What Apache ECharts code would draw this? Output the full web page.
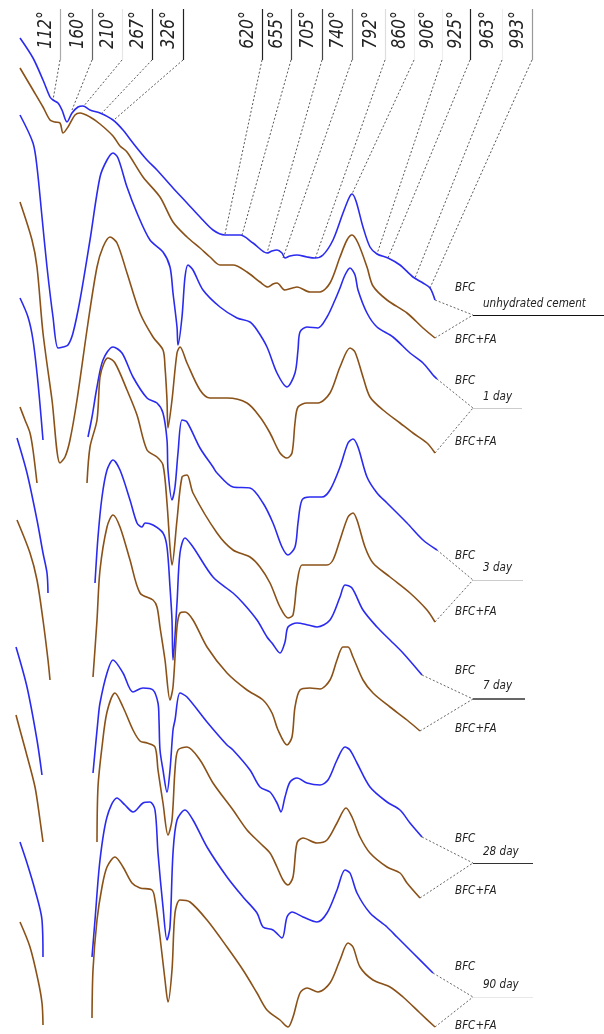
<!DOCTYPE html>
<html>
<head>
<meta charset="utf-8">
<script src="https://cdn.jsdelivr.net/npm/echarts@6/dist/echarts.min.js"></script>
<style>
html,body{margin:0;padding:0;background:#fff;}
#chart{width:604px;height:1034px;}
</style>
</head>
<body>
<div id="chart"></div>
<script>
// ---- curves: [x, y] (chart units, y grows downward) ----
const bfcUnhydrated = [[20,38],[33,58],[43,80],[50,97],[53,100],[58,103],[62,110],[67,122],[72,113],[78,107],[83,106],[90,110],[100,113],[113,120],[123,130],[133,143],[147,160],[157,170],[173,188],[187,203],[200,217],[213,230],[225,235],[240,235],[253,243],[267,253],[272,251],[277,250],[282,253],[285,258],[290,256],[297,255],[307,257],[315,258],[323,255],[333,240],[343,213],[349,198],[352,194],[356,201],[363,227],[370,247],[377,254],[388,258],[400,265],[413,277],[423,283],[430,288],[435,300]];
const faUnhydrated = [[20,68],[33,90],[43,107],[50,120],[55,122],[60,123],[63,133],[68,127],[75,115],[80,113],[90,117],[100,124],[113,136],[120,146],[127,152],[143,177],[160,197],[173,222],[187,237],[200,248],[210,257],[220,265],[233,265],[247,272],[260,282],[268,287],[273,284],[277,283],[285,290],[297,287],[310,292],[320,292],[330,283],[340,257],[347,240],[352,235],[358,243],[367,267],[373,286],[387,300],[407,313],[423,328],[435,338]];
const bfcDay1 = [[20,115],[33,143],[37,167],[42,217],[47,267],[53,317],[58,348],[63,347],[68,345],[73,333],[80,300],[90,240],[100,177],[107,160],[113,153],[118,158],[127,187],[137,213],[150,240],[163,252],[170,267],[173,293],[177,327],[178,345],[182,317],[185,277],[188,265],[193,270],[203,290],[220,307],[237,318],[250,322],[257,330],[267,347],[277,373],[287,387],[295,373],[298,350],[300,332],[307,327],[318,328],[327,317],[335,300],[340,288],[345,275],[350,268],[355,275],[358,290],[367,313],[377,327],[393,337],[410,353],[423,363],[433,375],[437,379]];
const faDay1 = [[20,202],[32,240],[37,267],[43,333],[52,400],[60,463],[65,457],[70,440],[77,400],[88,323],[97,267],[103,247],[110,237],[117,243],[127,273],[140,313],[153,337],[163,350],[165,367],[167,400],[168,428],[172,400],[177,353],[180,347],[187,363],[200,390],[210,398],[227,398],[247,403],[260,417],[270,433],[280,453],[287,458],[292,453],[295,423],[298,407],[307,403],[318,403],[330,393],[340,367],[350,348],[355,352],[363,377],[370,397],[383,410],[400,423],[413,433],[427,443],[435,453]];
const bfcDay3Left = [[20,298],[28,317],[33,340],[38,383],[43,440]];
const bfcDay3 = [[88,437],[92,417],[97,387],[103,360],[113,347],[122,353],[133,377],[147,398],[157,403],[163,413],[167,440],[168,470],[172,500],[175,487],[178,453],[182,420],[187,422],[200,448],[213,467],[217,473],[233,487],[250,488],[263,503],[273,523],[282,547],[288,555],[295,547],[298,523],[302,500],[310,497],[322,497],[330,490],[340,467],[348,443],[353,439],[358,447],[367,477],[377,493],[387,503],[407,523],[423,540],[437,550]];
const faDay3Left = [[20,407],[25,420],[30,433],[33,450],[37,483]];
const faDay3 = [[87,483],[90,447],[97,420],[100,377],[104,363],[108,358],[115,363],[127,390],[137,415],[147,450],[157,457],[163,465],[167,503],[170,547],[172,565],[177,520],[182,477],[187,475],[193,493],[217,533],[233,550],[250,557],[260,567],[270,583],[280,607],[288,618],[293,615],[297,583],[302,565],[310,565],[327,565],[333,560],[340,540],[348,517],[353,513],[357,520],[365,547],[373,563],[390,577],[410,593],[427,610],[435,622]];
const bfcDay7Left = [[17,438],[27,473],[37,520],[43,553],[47,573],[48,593]];
const bfcDay7 = [[95,583],[98,537],[102,497],[107,470],[113,460],[120,470],[130,500],[137,523],[142,527],[145,523],[153,525],[163,533],[167,547],[170,587],[172,620],[173,660],[177,603],[180,553],[185,538],[193,547],[213,577],[233,593],[243,603],[257,620],[267,637],[272,643],[280,653],[285,642],[288,627],[297,623],[308,625],[317,627],[330,620],[340,597],[345,585],[352,588],[363,610],[377,627],[390,640],[403,653],[422,675]];
const faDay7Left = [[17,520],[30,553],[37,580],[43,620],[48,660],[50,680]];
const faDay7 = [[93,677],[97,620],[100,570],[107,527],[113,515],[120,527],[130,560],[140,593],[153,600],[157,607],[160,627],[165,660],[170,700],[173,687],[177,627],[180,613],[185,612],[193,620],[207,647],[227,673],[247,690],[263,700],[272,713],[278,730],[287,745],[292,737],[295,707],[300,690],[310,688],[320,689],[330,680],[337,660],[343,647],[348,647],[353,657],[363,680],[373,693],[390,707],[407,720],[420,731]];
const bfcDay28Left = [[16,647],[27,687],[37,740],[42,775]];
const bfcDay28 = [[93,773],[98,720],[100,703],[107,673],[113,660],[123,673],[133,692],[143,688],[153,690],[158,703],[159,720],[160,750],[163,770],[167,792],[170,770],[173,730],[175,720],[180,693],[187,697],[207,722],[227,745],[233,750],[250,770],[260,787],[270,792],[277,803],[281,812],[285,797],[290,782],[297,778],[307,783],[320,785],[328,780],[337,760],[345,747],[350,750],[357,763],[370,787],[387,802],[400,810],[410,823],[422,837]];
const faDay28Left = [[16,715],[20,730],[26,752],[35,787],[40,820],[43,842]];
const faDay28 = [[97,842],[98,787],[102,747],[107,712],[115,693],[123,707],[133,730],[140,741],[147,743],[155,747],[158,770],[163,803],[168,835],[172,820],[175,770],[178,750],[187,747],[200,760],[213,783],[233,810],[247,830],[260,843],[270,853],[277,867],[283,880],[288,885],[293,877],[297,843],[303,838],[317,843],[327,840],[337,823],[346,808],[352,817],[360,837],[370,853],[387,867],[400,873],[407,883],[420,898]];
const bfcDay90Left = [[20,842],[27,863],[35,890],[42,920],[43,957]];
const bfcDay90 = [[92,957],[95,920],[100,860],[107,817],[117,798],[125,805],[133,812],[143,803],[150,802],[155,810],[158,853],[163,907],[167,940],[170,927],[173,853],[177,820],[185,810],[193,820],[207,847],[227,877],[243,897],[257,913],[263,927],[273,930],[282,938],[287,917],[292,912],[303,917],[317,922],[327,913],[337,890],[345,870],[350,873],[357,893],[370,913],[387,927],[397,937],[413,953],[433,973]];
const faDay90Left = [[20,922],[30,947],[38,980],[42,1003],[43,1025]];
const faDay90 = [[92,1018],[93,970],[97,920],[102,887],[107,867],[115,857],[123,867],[132,883],[140,888],[152,890],[155,900],[160,937],[165,980],[168,1002],[172,970],[175,913],[180,900],[190,902],[207,920],[227,947],[243,970],[257,993],[267,1010],[280,1020],[288,1027],[293,1017],[300,993],[307,988],[318,992],[330,983],[340,960],[348,943],[353,947],[360,967],[373,980],[390,987],[403,997],[420,1013],[435,1027]];

// ---- temperature annotations ----
const tempLabels = ['112°','160°','210°','267°','326°','620°','655°','705°','740°','792°','860°','906°','925°','963°','993°'];
const tempLineX  = [60,92,122,152,183,262,291,322,352,385,414,442,470,502,532];
const leaderEndX = [53,72,83,102,115,225,242,267,283,315,352,377,388,415,430];
const leaderEndY = [100,110,107,113,119,234,235,253,258,259,194,254,258,278,288];
const tempLineColor = ['#aaa','#666','#e6e6e6','#222','#222','#222','#444','#444','#777','#ddd','#eee','#eee','#222','#eee','#999'];

// ---- sample groups (right side) ----
const groupNames  = ['unhydrated cement','1 day','3 day','7 day','28 day','90 day'];
const bfcEnds = [bfcUnhydrated, bfcDay1, bfcDay3, bfcDay7, bfcDay28, bfcDay90];
const faEnds  = [faUnhydrated, faDay1, faDay3, faDay7, faDay28, faDay90];
const joinY   = [315,408,580,699,863,997];
const underlineEnd = [604,522,523,525,533,533];
const underlineColor = ['#111','#ccc','#ccc','#666','#333','#e8e8e8'];
const bfcLabelY = [288,381,556,671,839,967];
const faLabelY  = [340,442,612,729,891,1026];
const groupLabelY = [304,397,568,686,852,985];

const BLUE = '#2b2bf0';
const BROWN = '#8a5118';
const FONT = "'DejaVu Sans',sans-serif";

function curve(data, color) {
  return {type:'line', data:data, showSymbol:false, smooth:0.3, silent:true,
          lineStyle:{color:color, width:1.6}, z:3};
}
const series = [
  curve(bfcUnhydrated, BLUE), curve(faUnhydrated, BROWN),
  curve(bfcDay1, BLUE), curve(faDay1, BROWN),
  curve(bfcDay3Left, BLUE), curve(bfcDay3, BLUE),
  curve(faDay3Left, BROWN), curve(faDay3, BROWN),
  curve(bfcDay7Left, BLUE), curve(bfcDay7, BLUE),
  curve(faDay7Left, BROWN), curve(faDay7, BROWN),
  curve(bfcDay28Left, BLUE), curve(bfcDay28, BLUE),
  curve(faDay28Left, BROWN), curve(faDay28, BROWN),
  curve(bfcDay90Left, BLUE), curve(bfcDay90, BLUE),
  curve(faDay90Left, BROWN), curve(faDay90, BROWN)
];

const segs = [];
// vertical label rules and leaders
tempLineX.forEach((x, i) => {
  segs.push({coords:[[x,9],[x,60]], lineStyle:{color:tempLineColor[i], width:1.2, type:'solid'}});
  segs.push({coords:[[x,60],[leaderEndX[i],leaderEndY[i]]], lineStyle:{color:'#444', width:0.9, type:[2,2]}});
});
// group connectors and underlines
groupNames.forEach((g, i) => {
  const b = bfcEnds[i][bfcEnds[i].length-1];
  const f = faEnds[i][faEnds[i].length-1];
  segs.push({coords:[b,[473,joinY[i]]], lineStyle:{color:'#555', width:0.9, type:[2,2]}});
  segs.push({coords:[f,[473,joinY[i]]], lineStyle:{color:'#555', width:0.9, type:[2,2]}});
  segs.push({coords:[[473,joinY[i]],[underlineEnd[i],joinY[i]]], lineStyle:{color:underlineColor[i], width:i===3?1.8:1.2, type:'solid'}});
});
series.push({type:'lines', coordinateSystem:'cartesian2d', silent:true, polyline:false,
             data:segs, z:2, lineStyle:{opacity:1}});

const graphic = [];
tempLabels.forEach((t, i) => {
  graphic.push({type:'text', x:tempLineX[i]-14, y:30, rotation:Math.PI/2, scaleX:0.78, silent:true,
    style:{text:t, font:'italic 200 20px ' + FONT, fill:'#222', textAlign:'center', textVerticalAlign:'middle'}});
});
function sideText(txt, x, y) {
  return {type:'text', x:x, y:y, scaleX:0.8, silent:true,
    style:{text:txt, font:'italic 200 13px ' + FONT, fill:'#222', textAlign:'left', textVerticalAlign:'middle'}};
}
groupNames.forEach((g, i) => {
  graphic.push(sideText('BFC', 455, bfcLabelY[i]));
  graphic.push(sideText('BFC+FA', 455, faLabelY[i]));
  graphic.push(sideText(g, 483, groupLabelY[i]));
});

const chart = echarts.init(document.getElementById('chart'), null, {renderer:'canvas'});
chart.setOption({
  animation:false,
  backgroundColor:'#fff',
  grid:{left:0, right:0, top:0, bottom:0, containLabel:false},
  xAxis:{type:'value', min:0, max:604, show:false},
  yAxis:{type:'value', min:0, max:1034, inverse:true, show:false},
  series:series,
  graphic:graphic
});
</script>
</body>
</html>
